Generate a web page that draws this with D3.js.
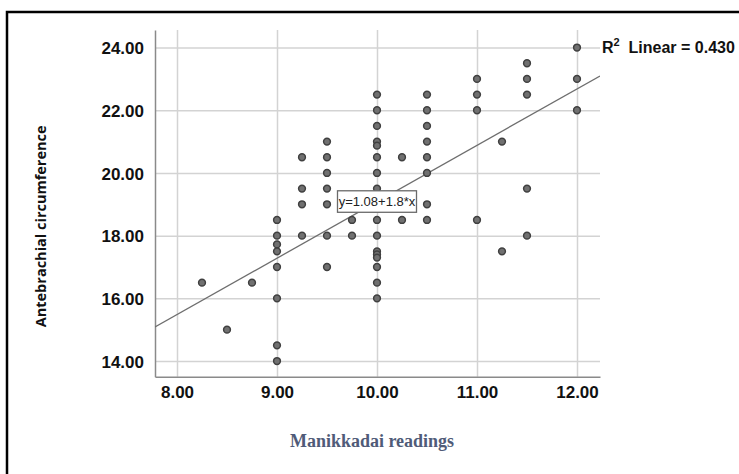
<!DOCTYPE html>
<html>
<head>
<meta charset="utf-8">
<script src="https://cdn.jsdelivr.net/npm/d3@7"></script>
<style>
  body { margin: 0; background: #fff; }
  svg { display: block; }
</style>
</head>
<body>
<svg></svg>
<script>
const WIDTH = 739;
const HEIGHT = 474;

// Manikkadai readings (x) and antebrachial circumference (y)
const xValues = [
  8.25, 8.5, 8.75,
  9, 9, 9, 9, 9, 9, 9, 9,
  9.25, 9.25, 9.25, 9.25,
  9.5, 9.5, 9.5, 9.5, 9.5, 9.5, 9.5,
  9.75, 9.75,
  10, 10, 10, 10, 10, 10, 10, 10, 10, 10, 10, 10, 10, 10, 10, 10,
  10.25, 10.25,
  10.5, 10.5, 10.5, 10.5, 10.5, 10.5, 10.5, 10.5,
  11, 11, 11, 11,
  11.25, 11.25,
  11.5, 11.5, 11.5, 11.5, 11.5,
  12, 12, 12
];
const yValues = [
  16.5, 15.0, 16.5,
  18.5, 18.0, 17.72, 17.5, 17.0, 16.0, 14.5, 14.0,
  20.5, 19.5, 19.0, 18.0,
  21.0, 20.5, 20.0, 19.5, 19.0, 18.0, 17.0,
  18.5, 18.0,
  22.5, 22.0, 21.5, 21.0, 20.87, 20.5, 20.0, 19.5, 18.5, 18.0, 17.5, 17.4, 17.3, 17.0, 16.5, 16.0,
  20.5, 18.5,
  22.5, 22.0, 21.5, 21.0, 20.5, 20.0, 19.0, 18.5,
  23.0, 22.5, 22.0, 18.5,
  21.0, 17.5,
  23.5, 23.0, 22.5, 19.5, 18.0,
  24.0, 23.0, 22.0
];
const xTicks = [8, 9, 10, 11, 12];
const yTicks = [14, 16, 18, 20, 22, 24];
const fitIntercept = 1.08;
const fitSlope = 1.8;
const rSquared = 0.430;

const points = xValues.map((x, i) => ({x: x, y: yValues[i]}));

const svg = d3.select('svg')
    .attr('width', WIDTH)
    .attr('height', HEIGHT);

// outer frame (only top and left edges are visible in the picture)
svg.append('path')
    .attr('d', `M7,${HEIGHT} V12 H${WIDTH}`)
    .attr('fill', 'none')
    .attr('stroke', '#000')
    .attr('stroke-width', 2.5);

const x = d3.scaleLinear().domain([7.78, 12.23]).range([155, 600]);
const y = d3.scaleLinear().domain([13.5, 24.56]).range([376.7, 30]);

svg.append('defs').append('clipPath')
    .attr('id', 'plot-clip')
  .append('rect')
    .attr('x', x.range()[0])
    .attr('y', y.range()[1])
    .attr('width', x.range()[1] - x.range()[0])
    .attr('height', y.range()[0] - y.range()[1]);

// grid
svg.append('g')
    .attr('transform', `translate(0,${y.range()[1]})`)
    .call(d3.axisBottom(x).tickValues(xTicks)
        .tickSize(y.range()[0] - y.range()[1]).tickFormat(''))
    .call((g) => g.select('.domain').remove())
    .call((g) => g.selectAll('line').attr('stroke', '#d3d3d3').attr('stroke-width', 1.5));

svg.append('g')
    .attr('transform', `translate(${x.range()[0]},0)`)
    .call(d3.axisRight(y).tickValues(yTicks)
        .tickSize(x.range()[1] - x.range()[0]).tickFormat(''))
    .call((g) => g.select('.domain').remove())
    .call((g) => g.selectAll('line').attr('stroke', '#d3d3d3').attr('stroke-width', 1.5));

// axes
const xAxis = svg.append('g')
    .attr('transform', `translate(0,${y.range()[0]})`)
    .call(d3.axisBottom(x).tickValues(xTicks).tickSize(0).tickPadding(9)
        .tickFormat(d3.format('.2f')));
const yAxis = svg.append('g')
    .attr('transform', `translate(${x.range()[0]},0)`)
    .call(d3.axisLeft(y).tickValues(yTicks).tickSize(0).tickPadding(11)
        .tickFormat(d3.format('.2f')));

[xAxis, yAxis].forEach((g) => {
  g.select('.domain').attr('stroke', '#8a8a8a').attr('stroke-width', 1.5);
  g.selectAll('text')
      .attr('fill', '#111')
      .style('font-family', '"Liberation Sans", Arial, sans-serif')
      .style('font-size', '17px')
      .style('font-weight', 'bold');
});
yAxis.selectAll('text').attr('dy', '0.36em');

// fit line
const plot = svg.append('g').attr('clip-path', 'url(#plot-clip)');
const xDom = x.domain();
plot.append('line')
    .attr('x1', x(xDom[0]))
    .attr('y1', y(fitIntercept + fitSlope * xDom[0]))
    .attr('x2', x(xDom[1]))
    .attr('y2', y(fitIntercept + fitSlope * xDom[1]))
    .attr('stroke', '#6e6e6e')
    .attr('stroke-width', 1.3);

// points
plot.selectAll('circle')
    .data(points)
    .enter().append('circle')
    .attr('cx', (d) => x(d.x))
    .attr('cy', (d) => y(d.y))
    .attr('r', 3.4)
    .attr('fill', '#707070')
    .attr('stroke', '#404040')
    .attr('stroke-width', 1.5);

// equation label, centred on the fit line at x = 10
const eqX = x(10);
const eqY = y(fitIntercept + fitSlope * 10);
const eq = svg.append('g').attr('transform', `translate(${eqX},${eqY})`);
eq.append('rect')
    .attr('x', -39.5)
    .attr('y', -11)
    .attr('width', 79)
    .attr('height', 21.5)
    .attr('fill', '#fff')
    .attr('stroke', '#6a6a6a')
    .attr('stroke-width', 1.3);
eq.append('text')
    .attr('text-anchor', 'middle')
    .attr('dy', '0.35em')
    .attr('fill', '#222')
    .style('font-family', '"Liberation Sans", Arial, sans-serif')
    .style('font-size', '13px')
    .text(`y=${fitIntercept}+${fitSlope}*x`);

// R squared label
const r2 = svg.append('text')
    .attr('x', 602)
    .attr('y', 53)
    .attr('fill', '#111')
    .style('font-family', '"Liberation Sans", Arial, sans-serif')
    .style('font-size', '16px')
    .style('font-weight', 'bold');
r2.append('tspan').text('R');
r2.append('tspan').attr('dy', -7).style('font-size', '11px').text('2');
r2.append('tspan').attr('dy', 7).text(`  Linear = ${d3.format('.3f')(rSquared)}`)
    .attr('xml:space', 'preserve');

// axis titles
svg.append('text')
    .attr('transform', `translate(46,${(y.range()[0] + y.range()[1]) / 2 + 23}) rotate(-90)`)
    .attr('text-anchor', 'middle')
    .attr('fill', '#111')
    .style('font-family', '"Open Sans", "Liberation Sans", sans-serif')
    .style('font-size', '14.5px')
    .style('font-weight', 'bold')
    .text('Antebrachial circumference');

svg.append('text')
    .attr('x', 372)
    .attr('y', 447)
    .attr('text-anchor', 'middle')
    .attr('fill', '#4f5b78')
    .style('font-family', '"Liberation Serif", "Times New Roman", serif')
    .style('font-size', '18px')
    .style('font-weight', 'bold')
    .text('Manikkadai readings');
</script>
</body>
</html>
